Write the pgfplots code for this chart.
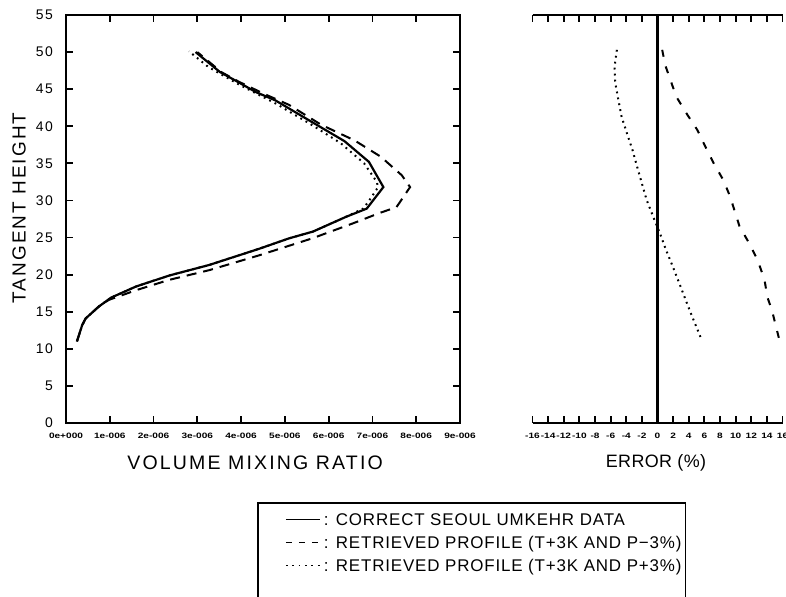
\documentclass[border=0pt]{standalone}
\usepackage{fontspec}
\setmainfont{Liberation Sans}
\newfontfamily\lblfont[LetterSpace=11]{Liberation Sans}
\newfontfamily\errfont[LetterSpace=2]{Liberation Sans}
\newfontfamily\legfont[LetterSpace=5]{Liberation Sans}
\newfontfamily\tickfont[FakeStretch=1.3]{Liberation Sans}
\usepackage{pgfplots}
\pgfplotsset{compat=1.18}
\begin{document}
\begin{tikzpicture}
\begin{axis}[
  at={(33bp,87bp)}, anchor=south west,
  scale only axis, width=197bp, height=204bp,
  xmin=0, xmax=9e-6, ymin=0, ymax=55,
  xtick={0,1e-6,2e-6,3e-6,4e-6,5e-6,6e-6,7e-6,8e-6,9e-6},
  xticklabels={0e+000,1e-006,2e-006,3e-006,4e-006,5e-006,6e-006,7e-006,8e-006,9e-006},
  scaled x ticks=false,
  ytick={0,5,10,15,20,25,30,35,40,45,50,55},
  tick align=inside, major tick length=3.5bp,
  xtick pos=both, ytick pos=both,
  xticklabel pos=lower, yticklabel pos=left,
  axis line style={line width=1bp},
  every tick/.style={black, line width=0.9bp},
  /pgf/number format/assume math mode=true,
  yticklabel style={font=\lblfont\fontsize{7}{8}\selectfont, xshift=-3bp},
  xticklabel style={font=\tickfont\bfseries\fontsize{3.9}{4}\selectfont, yshift=-1.5bp},
  xlabel={VOLUME MIXING RATIO},
  xlabel style={at={(axis description cs:0.48,-0.098)}, anchor=center, font=\lblfont\fontsize{9.8}{11}\selectfont},
  ylabel={TANGENT HEIGHT},
  ylabel style={at={(axis description cs:-0.119,0.527)}, anchor=center, font=\lblfont\fontsize{9.5}{11}\selectfont},
  legend cell align=left,
  legend image code/.code={\path (0bp,0bp); \draw[#1] (13bp,0bp) -- (30bp,0bp);},
  legend style={at={(axis description cs:0.485,-0.194)}, anchor=north west, draw=black, line width=0.9bp,
    inner xsep=0.5bp, inner ysep=2.5bp, font=\legfont\fontsize{8.5}{10}\selectfont,
    nodes={inner sep=1.5bp, text height=7bp, text depth=1.5bp}, row sep=0bp},
]
\addplot[black, line width=1.1bp, forget plot] coordinates {
(0.25e-6,11.0) (0.37e-6,13.2) (0.45e-6,14.1) (0.75e-6,15.7) (1.03e-6,16.9) (1.60e-6,18.4)
(2.37e-6,19.9) (3.27e-6,21.3) (4.42e-6,23.5) (5.10e-6,24.9) (5.64e-6,25.8) (6.40e-6,27.8)
(6.87e-6,28.9) (7.25e-6,31.8) (6.92e-6,35.2) (6.36e-6,38.0) (5.61e-6,40.6) (4.78e-6,43.5)
(4.34e-6,44.6) (3.92e-6,46.0) (3.52e-6,47.3) (2.96e-6,50.0)};
\addplot[black, line width=1bp, dash pattern=on 5bp off 3.5bp, forget plot] coordinates {
(0.25e-6,11.0) (0.37e-6,13.2) (0.45e-6,14.1) (0.75e-6,15.7) (0.98e-6,16.6) (1.60e-6,17.9)
(2.36e-6,19.3) (3.27e-6,20.6) (4.41e-6,22.6) (5.63e-6,24.9) (6.55e-6,26.9) (7.16e-6,28.3)
(7.55e-6,29.1) (7.86e-6,31.8) (7.67e-6,33.4) (7.19e-6,35.9) (6.59e-6,38.1) (5.83e-6,40.2)
(5.09e-6,42.9) (4.55e-6,44.3) (3.95e-6,46.0) (3.55e-6,47.3) (3.00e-6,50.0)};
\addplot[black, line width=1bp, dash pattern=on 0.9bp off 2.1bp, forget plot] coordinates {
(0.25e-6,11.0) (0.37e-6,13.2) (0.45e-6,14.1) (0.75e-6,15.7) (1.03e-6,16.9) (1.60e-6,18.4)
(2.37e-6,19.9) (3.27e-6,21.3) (4.42e-6,23.5) (5.10e-6,24.9) (5.64e-6,25.8) (6.40e-6,27.8)
(6.79e-6,28.9) (6.94e-6,30.1) (7.13e-6,31.8) (7.10e-6,32.5) (6.81e-6,35.0) (6.28e-6,37.7)
(5.61e-6,40.2) (4.78e-6,43.1) (3.96e-6,45.6) (3.25e-6,48.0) (2.81e-6,50.1)};
\addlegendimage{black, line width=0.9bp}
\addlegendentry{: CORRECT SEOUL UMKEHR DATA}
\addlegendimage{black, line width=0.9bp, dash pattern=on 3bp off 3.5bp}
\addlegendentry{: RETRIEVED PROFILE (T+3K AND P−3\%)}
\addlegendimage{black, line width=0.9bp, dash pattern=on 0.9bp off 2.3bp}
\addlegendentry{: RETRIEVED PROFILE (T+3K AND P+3\%)}
\addlegendimage{empty legend}
\addlegendentry{\rule{0pt}{30bp}}
\end{axis}
\begin{axis}[
  at={(266.25bp,87bp)}, anchor=south west,
  scale only axis, width=125bp, height=204bp,
  xmin=-16, xmax=16, ymin=0, ymax=55,
  axis x line=box, axis y line=none,
  xtick={-16,-14,-12,-10,-8,-6,-4,-2,0,2,4,6,8,10,12,14,16},
  xticklabels={-16,-14,-12,-10,-8,-6,-4,-2,0,2,4,6,8,10,12,14,16},
  ytick=\empty,
  tick align=inside, major tick length=3.5bp,
  xtick pos=both, xticklabel pos=lower,
  axis line style={line width=1bp},
  every tick/.style={black, line width=0.9bp},
  /pgf/number format/assume math mode=true,
  xticklabel style={font=\tickfont\bfseries\fontsize{3.9}{4}\selectfont, yshift=-1.5bp},
  xlabel={ERROR (\%)},
  xlabel style={at={(axis description cs:0.494,-0.098)}, anchor=center, font=\errfont\fontsize{9}{11}\selectfont},
]
\addplot[black, line width=1.1bp] coordinates {(0,0) (0,55)};
\addplot[black, line width=1bp, dash pattern=on 3.5bp off 5bp] coordinates {
(0.6,50.3) (1.0,48.2) (2.4,44.0) (3.85,41.5) (5.1,39.5) (6.15,37.2) (7.2,35.0) (8.45,32.7)
(9.3,30.5) (10.5,26.5) (11.75,24.2) (12.8,22.0) (13.7,19.3) (14.05,17.0) (14.65,15.2) (15.55,11.4)};
\addplot[black, line width=1bp, dash pattern=on 0.9bp off 2.1bp] coordinates {
(-5.2,50.3) (-5.5,48.0) (-5.4,45.8) (-5.0,43.5) (-4.6,41.3) (-3.9,39.0) (-3.2,36.8) (-2.6,34.5)
(-2.0,32.3) (-1.4,30.1) (-0.55,27.8) (0.3,25.6) (1.1,23.3) (1.95,21.1) (2.8,18.8) (3.6,16.6)
(4.45,14.3) (5.5,11.6)};
\end{axis}
\pgfresetboundingbox
\useasboundingbox (0,0) rectangle (393bp,298.5bp);
\end{tikzpicture}
\end{document}
